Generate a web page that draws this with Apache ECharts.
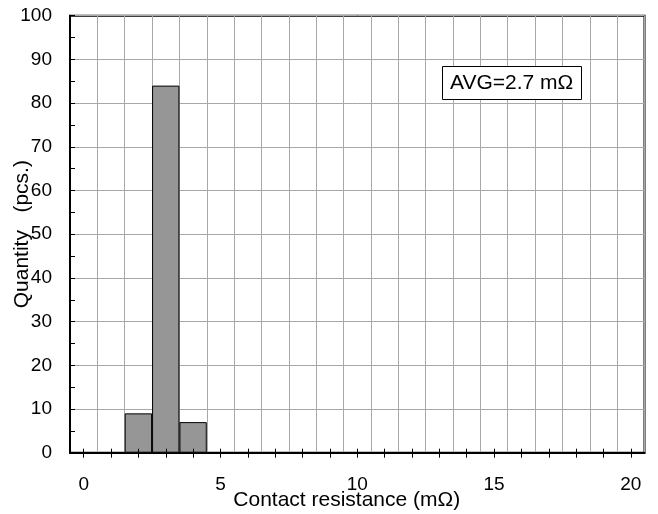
<!DOCTYPE html>
<html>
<head>
<meta charset="utf-8">
<script src="https://cdn.jsdelivr.net/npm/echarts@6/dist/echarts.min.js"></script>
<style>html,body{margin:0;padding:0;background:#fff;}#c{width:658px;height:514px;}</style>
</head>
<body>
<div id="c"></div>
<script>
var categories = ['0','1','2','3','4','5','6','7','8','9','10','11','12','13','14','15','16','17','18','19','20'];
var quantities = [0,0,9,84,7,0,0,0,0,0,0,0,0,0,0,0,0,0,0,0,0];
var yTicks = {min: 0, max: 100, interval: 10};
var xName = 'Contact resistance (mΩ)';
var yName = 'Quantity   (pcs.)';
var avgText = 'AVG=2.7 mΩ';

var FONT = '"Liberation Sans", Arial, sans-serif';
var chart = echarts.init(document.getElementById('c'), null, {renderer: 'canvas'});
chart.setOption({
  backgroundColor: '#ffffff',
  animation: false,
  title: {
    text: avgText,
    left: 442, top: 66,
    padding: [7, 8, 6, 8],
    borderColor: '#000', borderWidth: 1,
    backgroundColor: '#fff',
    textStyle: {fontFamily: FONT, fontSize: 21, fontWeight: 'normal', color: '#000'}
  },
  grid: {
    left: 70, right: 13.5, top: 15.7, bottom: 61.3,
    show: true, borderColor: '#000', borderWidth: 2, backgroundColor: 'transparent',
    containLabel: false,
    outerBoundsMode: 'none'
  },
  xAxis: [{
    type: 'category',
    data: categories,
    name: xName,
    nameLocation: 'middle',
    nameGap: 37,
    nameMoveOverlap: false,
    nameTextStyle: {fontFamily: FONT, fontSize: 21, color: '#000', padding: [0, 21, 0, 0]},
    axisLine: {lineStyle: {color: '#000', width: 2}},
    axisTick: {show: true, inside: false, length: 5, alignWithLabel: true, interval: 0, lineStyle: {color: '#000', width: 1}},
    axisLabel: {interval: 4, margin: 23, fontFamily: FONT, fontSize: 19, color: '#000'},
    splitLine: {show: true, interval: 0, lineStyle: {color: '#a8a8a8', width: 1}}
  }, {
    type: 'category',
    data: categories,
    position: 'bottom',
    offset: 0,
    z: 3,
    axisLine: {show: false},
    axisTick: {show: true, inside: true, length: 4, alignWithLabel: true, interval: 0, lineStyle: {color: '#000', width: 1}},
    axisLabel: {show: false},
    splitLine: {show: false}
  }],
  yAxis: {
    type: 'value',
    min: yTicks.min, max: yTicks.max, interval: yTicks.interval,
    name: yName,
    nameLocation: 'middle',
    nameGap: 37,
    nameMoveOverlap: false,
    nameTextStyle: {fontFamily: FONT, fontSize: 21, color: '#000'},
    axisLine: {show: true, lineStyle: {color: '#000', width: 2}},
    axisTick: {show: true, inside: true, length: 5, lineStyle: {color: '#000', width: 1}},
    minorTick: {show: true, splitNumber: 2, length: 5, lineStyle: {color: '#000', width: 1}},
    axisLabel: {margin: 18, fontFamily: FONT, fontSize: 19, color: '#000'},
    splitLine: {show: true, lineStyle: {color: '#a8a8a8', width: 1}}
  },
  series: [{
    type: 'bar',
    xAxisIndex: 0,
    data: quantities,
    barWidth: '100%',
    itemStyle: {color: '#969696', borderColor: '#000', borderWidth: 1}
  }]
});
</script>
</body>
</html>
